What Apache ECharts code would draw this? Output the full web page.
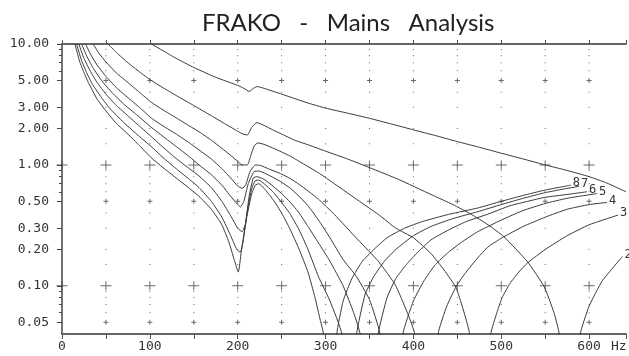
<!DOCTYPE html>
<html><head><meta charset="utf-8">
<script src="https://cdn.jsdelivr.net/npm/echarts@6/dist/echarts.min.js"></script>
<style>html,body{margin:0;padding:0;background:#fff}#c{width:629px;height:356px}</style>
</head><body><div id="c"></div>
<script>
const titleText = 'FRAKO   -   Mains   Analysis';
const curveNames = ['1','2','3','4','5','6','7','8'];

const c1Hz  = [101.5,115,130,150,175,200,207,213,218,222,230,250,280,300,325,350,375,400,425,450,475,500,525,550,575,600,620,642];
const c1Val = [10,8.8,7.6,6.4,5.3,4.55,4.3,4.05,4.3,4.45,4.3,3.85,3.25,2.95,2.68,2.43,2.18,1.95,1.75,1.56,1.4,1.25,1.12,1.0,0.9,0.80,0.71,0.6];

const c2Hz  = [52.4,62,75,88,101.5,115,130,150,170,185,200,206,211,216,222,230,240,250,265,281,300,325,350,383,420,445,466,485,503,530,549,560,566,577,590,600,615,638];
const c2Val = [10,8.5,7.0,5.9,5.0,4.35,3.75,3.1,2.55,2.2,1.9,1.8,1.77,2.05,2.24,2.12,1.95,1.8,1.6,1.46,1.3,1.12,0.95,0.76,0.57,0.47,0.39,0.32,0.255,0.158,0.098,0.06,0.04,0.003,0.04,0.068,0.11,0.175];

const c3Hz  = [35.4,42,50,62,75,88,101.5,115,130,145,156,170,182,192,200,205,211,215,219,223,230,240,250,260,270,280,292,310,337,360,380,400,420,435,449,464,476,488,495,501,510,520,530,550,575,600,633];
const c3Val = [10,8.4,7.1,5.75,4.8,4.0,3.3,2.85,2.45,2.1,1.88,1.6,1.37,1.2,1.07,1.0,1.0,1.2,1.45,1.52,1.48,1.38,1.28,1.18,1.07,0.97,0.86,0.7,0.51,0.39,0.3,0.25,0.185,0.135,0.095,0.04,0.003,0.04,0.06,0.08,0.105,0.13,0.155,0.2,0.26,0.32,0.385];

const c4Hz  = [26.8,33,40,50,62,75,88,101.5,115,130,145,156,170,182,192,200,205,209,214,220,226,235,250,260,270,280,292,310,337,360,380,401.5,415,428,438,449,460,473,485,501,525,550,575,600,620.5];
const c4Val = [10,8.1,6.7,5.4,4.35,3.6,3.0,2.45,2.1,1.8,1.52,1.33,1.12,0.93,0.78,0.67,0.64,0.68,0.88,1.0,0.99,0.93,0.84,0.77,0.69,0.61,0.52,0.39,0.24,0.16,0.1,0.04,0.003,0.04,0.068,0.1,0.13,0.17,0.21,0.25,0.31,0.37,0.43,0.47,0.49];

const c5Hz  = [22.3,28,35,45,55,70,85,101.5,115,130,145,156,170,182,192,200,203,207,212,218.5,224,230,240,250,260,270,280,292,305,320,335,350,362,375,388,400,412,425,440,455,473,500,525,550,575,609];
const c5Val = [10,8.0,6.4,5.0,4.1,3.2,2.6,2.05,1.72,1.42,1.17,1.0,0.83,0.68,0.55,0.47,0.45,0.5,0.7,0.88,0.89,0.86,0.79,0.72,0.64,0.55,0.46,0.35,0.25,0.165,0.12,0.077,0.04,0.003,0.04,0.075,0.11,0.15,0.19,0.23,0.28,0.35,0.42,0.48,0.53,0.58];

const c6Hz  = [19.2,25,32,40,50,62,75,88,101.5,115,130,145,156,170,182,192,200,205,209,213,217.7,222,230,240,250,260,270,280,292,305,320,332,339.3,350,360,370,380,392,405,420,440,460,484,510,530,550,575,597.5];
const c6Val = [10,7.6,6.0,4.8,3.85,3.1,2.55,2.1,1.72,1.4,1.13,0.93,0.81,0.65,0.5,0.38,0.3,0.28,0.33,0.55,0.78,0.8,0.76,0.67,0.58,0.49,0.4,0.31,0.226,0.16,0.1,0.06,0.04,0.003,0.04,0.08,0.115,0.15,0.19,0.24,0.29,0.34,0.39,0.46,0.5,0.54,0.57,0.6];

const c7Hz  = [16.6,22,28,35,45,55,70,85,101.5,115,130,145,156,170,182,192,199,203,206,211,216,220,224,230,240,250,260,270,280,292,305,318.5,327,335.4,345,355,367,380,400,420,445,473,500,525,550,570,588.5];
const c7Val = [10,7.4,5.8,4.6,3.6,2.9,2.25,1.8,1.42,1.15,0.93,0.76,0.65,0.5,0.37,0.26,0.2,0.19,0.23,0.42,0.64,0.74,0.75,0.7,0.6,0.49,0.39,0.29,0.2,0.119,0.075,0.04,0.003,0.04,0.085,0.12,0.16,0.2,0.26,0.31,0.36,0.41,0.47,0.53,0.59,0.63,0.665];

const c8Hz  = [14.7,20,25,30,40,50,62,75,88,101.5,115,130,145,156,170,182,190,196,200.7,204,210,216,220,224,230,240,250,260,270,280,288,294,297.7,305,312.8,320,330,342,355,370,390,410,440,473,500,525,550,579];
const c8Val = [10,7.2,5.8,4.8,3.5,2.8,2.2,1.8,1.45,1.15,0.95,0.78,0.64,0.55,0.43,0.32,0.23,0.165,0.13,0.19,0.36,0.58,0.68,0.70,0.64,0.52,0.4,0.29,0.2,0.13,0.08,0.052,0.04,0.003,0.04,0.075,0.115,0.16,0.2,0.25,0.3,0.34,0.39,0.44,0.5,0.56,0.62,0.68];

const yLabelVals = [10,5,3,2,1,0.5,0.3,0.2,0.1,0.05];
const yMinorVals = [9,8,7,6,0.9,0.8,0.7,0.6,0.09,0.08,0.07,0.06];
const gridHz = [50,100,150,200,250,300,350,400,450,500,550,600];
const dotVals = [9,8,7,6,4,3,2,1.5,0.9,0.8,0.7,0.6,0.4,0.3,0.2,0.15,0.09,0.08,0.07,0.06];
const plusBigVals = [1,0.1];
const plusSmallVals = [5,0.5,0.05];

const hzSets = [c1Hz,c2Hz,c3Hz,c4Hz,c5Hz,c6Hz,c7Hz,c8Hz];
const valSets = [c1Val,c2Val,c3Val,c4Val,c5Val,c6Val,c7Val,c8Val];

const ink = '#3a3a3a';
const mono = 'DejaVu Sans Mono';

function cross(xs, ys){ const out=[]; xs.forEach(x=>ys.forEach(y=>out.push([x,y]))); return out; }

const series = hzSets.map((hz,i)=>({
  type:'line', name: curveNames[i], xAxisIndex:0, yAxisIndex:0,
  data: hz.map((h,k)=>[h, valSets[i][k]]),
  showSymbol:false, symbol:'none', clip:true, silent:true,
  smooth:0.15,
  lineStyle:{color:ink, width:1},
  endLabel: i===0 ? {show:false} : {show:true, formatter: p=>p.seriesName, fontFamily:mono, fontSize:12, color:'#333', distance:2, offset:[0,-2]}
}));

series.push({type:'scatter', silent:true, data: cross(gridHz, dotVals), symbol:'rect', symbolSize:1, itemStyle:{color:'#444'}});
series.push({type:'scatter', silent:true, data: cross([0].concat(gridHz), plusBigVals), symbol:'path://M0,4H11V5H0Z M5,0H6V9H5Z', symbolSize:[11,9], itemStyle:{color:'#444'}});
series.push({type:'scatter', silent:true, data: cross(gridHz, plusSmallVals), symbol:'path://M0,2H5V3H0Z M2,0H3V5H2Z', symbolSize:[5,5], itemStyle:{color:'#444'}});

const chart = echarts.init(document.getElementById('c'), null, {renderer:'canvas'});
chart.setOption({
  animation:false,
  backgroundColor:'#fff',
  title:{text:titleText, left:197, top:6, textStyle:{fontFamily:'Lato', fontWeight:'normal', fontSize:24, color:'#222'}},
  grid:{left:62, right:0, top:44, bottom:22, containLabel:false},
  xAxis:[
    {type:'value', min:0, max:642, interval:50, position:'bottom',
     axisLine:{show:true, lineStyle:{color:'#666', width:2}},
     axisTick:{show:true, length:5, lineStyle:{color:'#555'}},
     axisLabel:{formatter: v => (v%100===0 && v<=600) ? String(v) : '', fontFamily:mono, fontSize:13, color:'#333', margin:6},
     splitLine:{show:false}},
    {type:'value', min:0, max:642, interval:50, position:'top',
     axisLine:{show:true, lineStyle:{color:'#666', width:2}},
     axisTick:{show:true, length:4, lineStyle:{color:'#555'}},
     axisLabel:{show:false}, splitLine:{show:false}}
  ],
  yAxis:[
    {type:'log', logBase:10, min:0.04, max:10,
     axisLine:{show:true, lineStyle:{color:'#444', width:1.5}},
     axisTick:{show:true, length:5, customValues:yLabelVals, lineStyle:{color:'#444'}},
     axisLabel:{customValues:yLabelVals, formatter: v => Number(v).toFixed(2), fontFamily:mono, fontSize:13, color:'#333', margin:13},
     splitLine:{show:false}, minorTick:{show:false}},
    {type:'log', logBase:10, min:0.04, max:10, position:'left',
     axisLine:{show:false},
     axisTick:{show:true, length:3, customValues:yMinorVals, lineStyle:{color:'#444'}},
     axisLabel:{show:false}, splitLine:{show:false}}
  ],
  graphic:[{type:'text', left:611, top:340, style:{text:'Hz', font:'13px "DejaVu Sans Mono"', fill:'#333'}}],
  series: series
});
</script></body></html>
